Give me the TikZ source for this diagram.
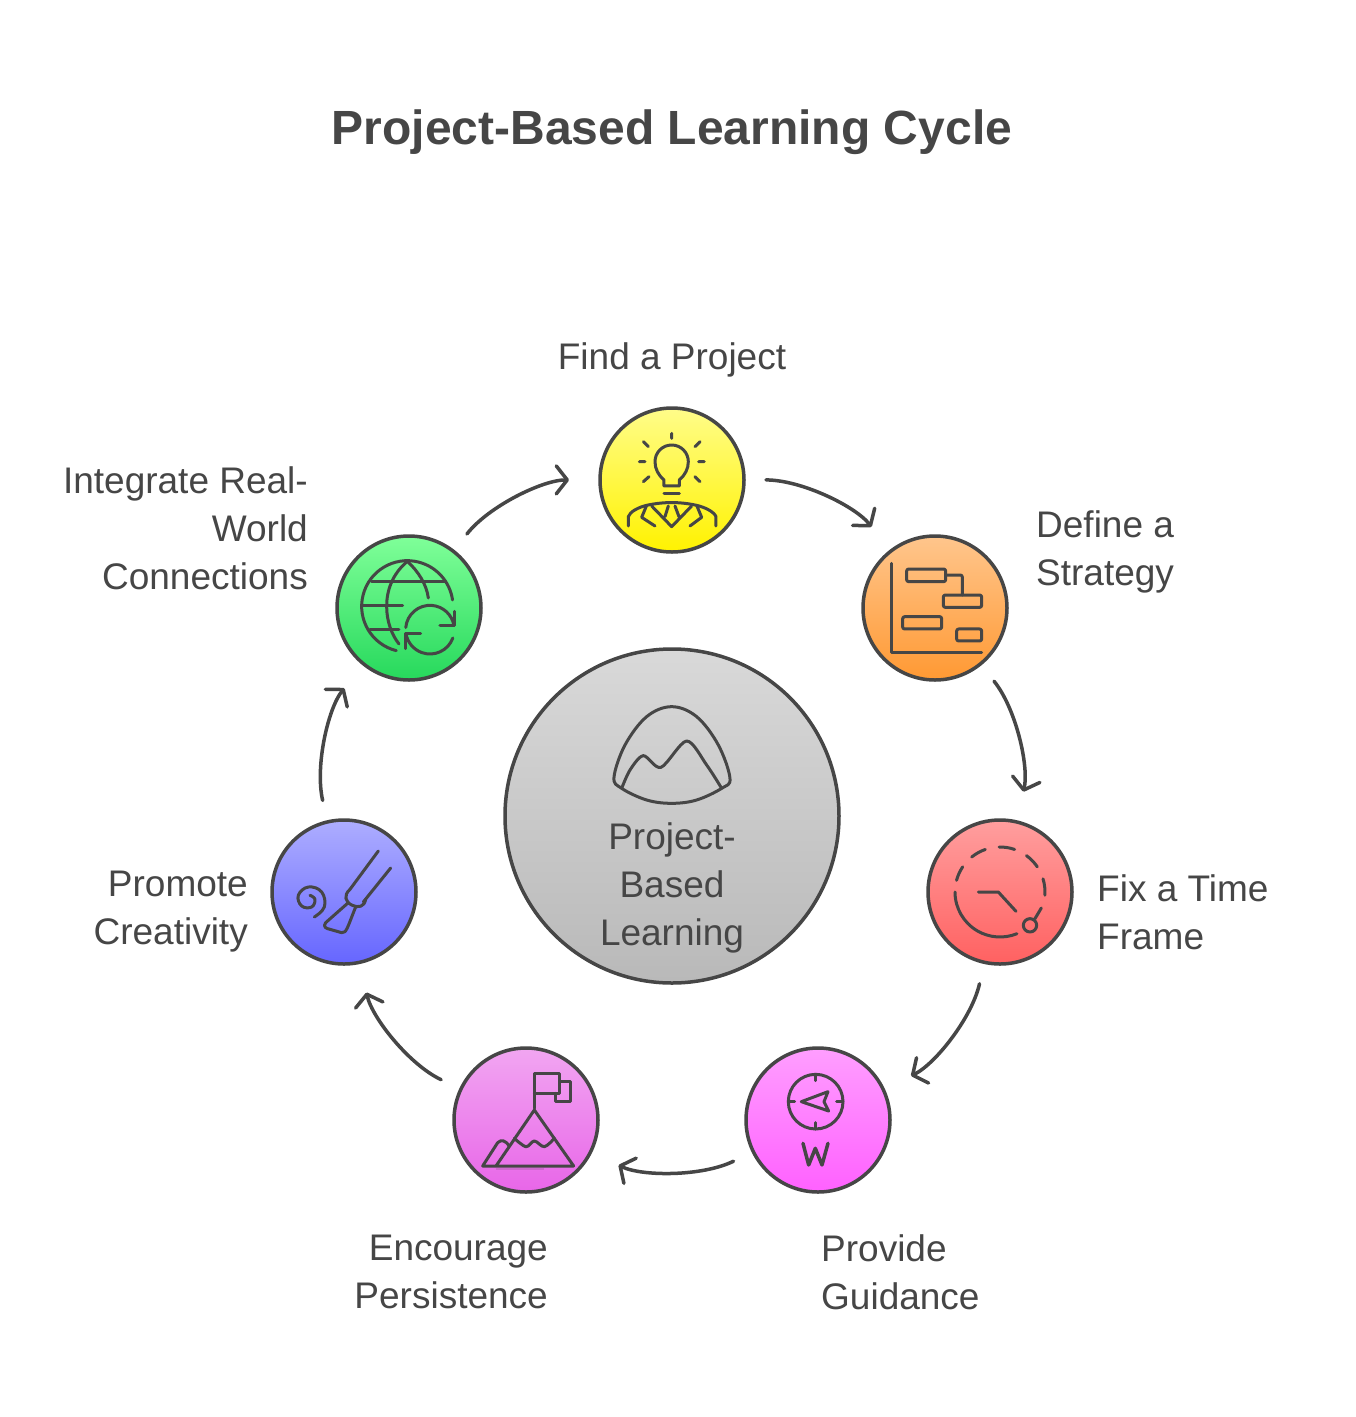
\documentclass[tikz,border=0pt]{standalone}
\usepackage{fontspec}
\setmainfont{Liberation Sans}
\usetikzlibrary{arrows.meta}
\definecolor{ink}{HTML}{464646}
\tikzset{
  stepcircle/.style={circle,draw=ink,line width=3.5pt,minimum size=144pt,inner sep=0pt,outer sep=0pt,shading angle=0},
  flow/.style={draw=ink,line width=3.5pt,line cap=round,shorten <=22pt,shorten >=31pt,
     -{Straight Barb[length=11pt,width=28pt,line width=3.5pt,round]}},
  lbl/.style={text=ink,font=\fontsize{37}{48}\selectfont,inner sep=0pt},
  icon/.style={draw=ink,line width=3pt,line cap=round,line join=round},
}
\newcommand{\iarc}[5]{([shift={(#1,#2)}]#4:#3) arc[start angle=#4,end angle=#5,radius=#3]}
\begin{document}
\begin{tikzpicture}[x=1pt,y=-1pt]
\useasboundingbox[fill=white] (0,0) rectangle (1356,1417);
\node[lbl,font=\fontsize{48}{58}\selectfont\bfseries] (title) at (672,132) {Project-Based Learning Cycle};

\node[stepcircle,minimum size=334pt,top color=gray!30,bottom color=gray!55] (core) at (672,816) {};
\node[stepcircle,top color=yellow!45!white!98!orange,bottom color=yellow!90!orange] (find) at (672,480) {};
\node[stepcircle,top color=orange!45!white,bottom color=orange!80!white] (strategy) at (935,608) {};
\node[stepcircle,top color=red!38!white,bottom color=red!62!white] (time) at (1000,892) {};
\node[stepcircle,top color=magenta!38!white,bottom color=magenta!62!white] (guide) at (818,1120) {};
\node[stepcircle,top color=violet!30!magenta!35!white,bottom color=violet!30!magenta!60!white] (persist) at (526,1120) {};
\node[stepcircle,top color=blue!32!white,bottom color=blue!60!white] (create) at (344,892) {};
\node[stepcircle,top color=green!80!cyan!50!white,bottom color=green!70!cyan!70!gray] (world) at (409,608) {};

\draw[flow] (find) to[bend left=26,looseness=.9] (strategy);
\draw[flow] (strategy) to[bend left=26,looseness=.9] (time);
\draw[flow] (time) to[bend left=26,looseness=.9] (guide);
\draw[flow] (guide) to[bend left=26,looseness=.9] (persist);
\draw[flow] (persist) to[bend left=26,looseness=.9] (create);
\draw[flow] (create) to[bend left=26,looseness=.9] (world);
\draw[flow] (world) to[bend left=26,looseness=.9] (find);

\node[lbl,align=center] (l0) at (672,888) {Project-\\Based\\Learning};
\node[lbl] (l1) at (672,360) {Find a Project};
\node[lbl,align=left,anchor=west] (l2) at (1036,552) {Define a\\Strategy};
\node[lbl,align=left,anchor=west] (l3) at (1097,912) {Fix a Time\\Frame};
\node[lbl,align=left,anchor=west] (l4) at (821,1272) {Provide\\Guidance};
\node[lbl,align=right,anchor=east] (l5) at (548,1272) {Encourage\\Persistence};
\node[lbl,align=right,anchor=east] (l6) at (248,912) {Promote\\Creativity};
\node[lbl,align=right,anchor=east] (l7) at (308,528) {Integrate Real-\\World\\Connections};

% core icon
\begin{scope}[shift={(590,690)},x=.3333pt,y=-.3333pt]
\draw[icon] plot[smooth cycle,tension=.6] coordinates {(95,295) (72,262) (105,165) (170,80) (245,50) (320,80) (385,165) (420,265) (395,295) (320,330) (245,340) (170,330)};
\draw[icon] plot[smooth,tension=.5] coordinates {(95,295) (120,240) (160,197) (213,232) (290,153) (350,225) (395,295)};
\end{scope}
% bulb
\begin{scope}[shift={(590,400)},x=.3333pt,y=-.3333pt]
\draw[icon] (222,258) -- (222,240) .. controls (205,225) and (195,207) .. (195,185) arc[start angle=180,end angle=360,radius=50] .. controls (295,207) and (285,225) .. (268,240) -- (268,258) -- cycle;
\draw[icon] (222,282) -- (268,282);
\draw[icon] (245,100) -- (245,115) (160,125) -- (175,140) (330,125) -- (315,140) (148,185) -- (165,185) (343,185) -- (326,185) (160,245) -- (177,230) (330,245) -- (315,230);
\draw[icon] (115,378) -- (115,350) .. controls (120,335) and (145,322) .. (170,316) .. controls (220,305) and (270,305) .. (320,316) .. controls (345,322) and (372,335) .. (378,350) -- (378,378);
\draw[icon] (170,316) -- (155,352) -- (195,378) (320,316) -- (335,352) -- (300,378);
\draw[icon] (185,318) -- (245,380) -- (305,318) (235,318) -- (225,350) (255,318) -- (267,350);
\end{scope}
% gantt
\begin{scope}[shift={(855,530)},x=.3333pt,y=-.3333pt]
\draw[icon] (108,100) -- (108,368) -- (380,368);
\draw[icon,rounded corners=2pt] (155,117) rectangle (272,155) (265,195) rectangle (380,232) (143,260) rectangle (260,297) (305,297) rectangle (380,333);
\draw[icon,rounded corners=2pt] (272,135) -- (322,135) -- (322,195);
\end{scope}
% clock
\begin{scope}[shift={(920,812)},x=.3333pt,y=-.3333pt]
\draw[icon] \iarc{240}{240}{135}{180}{68};
\draw[icon] \iarc{240}{240}{135}{195}{214} \iarc{240}{240}{135}{231}{251} \iarc{240}{240}{135}{269}{289} \iarc{240}{240}{135}{306}{326} \iarc{240}{240}{135}{343}{364};
\draw[icon] (364,288) -- (345,320);
\draw[icon] (330,340) circle[radius=20];
\draw[icon] (175,240) -- (235,240) -- (288,298);
\end{scope}
% compass
\begin{scope}[shift={(738,1040)},x=.3333pt,y=-.3333pt]
\draw[icon] (233,185) circle[radius=82];
\draw[icon] (233,103) -- (233,122) (233,248) -- (233,267) (151,185) -- (170,185) (296,185) -- (315,185);
\draw[icon] (190,185) -- (270,155) -- (258,185) -- (272,213) -- cycle;
\draw[icon,line width=3.5pt] (195,310) -- (212,375) -- (232,325) -- (252,375) -- (270,310);
\end{scope}
% flag
\begin{scope}[shift={(446,1040)},x=.3333pt,y=-.3333pt]
\draw[icon] (265,205) -- (265,100) -- (342,100) -- (342,160) -- (265,160);
\draw[icon] (342,125) -- (375,125) -- (375,185) -- (330,185) -- (330,160);
\draw[icon] (150,378) -- (265,210) -- (383,378) -- (110,378) -- (155,308) .. controls (165,298) and (180,300) .. (190,320);
\draw[icon] plot[smooth,tension=.6] coordinates {(205,295) (240,320) (265,303) (295,320) (325,295)};
\draw[line width=2pt,draw=violet!60,opacity=.5] (150,386) -- (295,386);
\end{scope}
% brush
\begin{scope}[shift={(265,812)},x=.3333pt,y=-.3333pt]
\draw[icon] (340,117) -- (255,232) (377,168) -- (295,270);
\draw[icon] (255,232) .. controls (235,250) and (240,270) .. (262,280) .. controls (280,288) and (298,285) .. (302,262);
\draw[icon] (250,272) -- (182,332) .. controls (172,345) and (185,350) .. (195,352) -- (230,362) .. controls (245,362) and (245,352) .. (272,285);
\draw[icon] plot[smooth,tension=.7] coordinates {(148,315) (178,285) (170,240) (130,225) (100,250) (110,282) (140,285) (150,262) (135,250)};
\end{scope}
% globe
\begin{scope}[shift={(330,528)},x=.3333pt,y=-.3333pt]
\draw[icon] \iarc{232}{235}{137}{104}{352};
\draw[icon] (232,100) .. controls (185,140) and (170,190) .. (170,235) .. controls (170,280) and (185,320) .. (207,348);
\draw[icon] (232,100) .. controls (265,130) and (290,170) .. (295,210);
\draw[icon] (125,160) -- (345,160) (100,233) -- (218,233) (120,305) -- (207,305);
\draw[icon] \iarc{300}{305}{73}{185}{350};
\draw[icon] \iarc{300}{305}{73}{20}{170};
\draw[icon] (330,293) -- (375,293) -- (375,250);
\draw[icon] (272,318) -- (228,318) -- (228,362);
\end{scope}
\end{tikzpicture}
\end{document}
